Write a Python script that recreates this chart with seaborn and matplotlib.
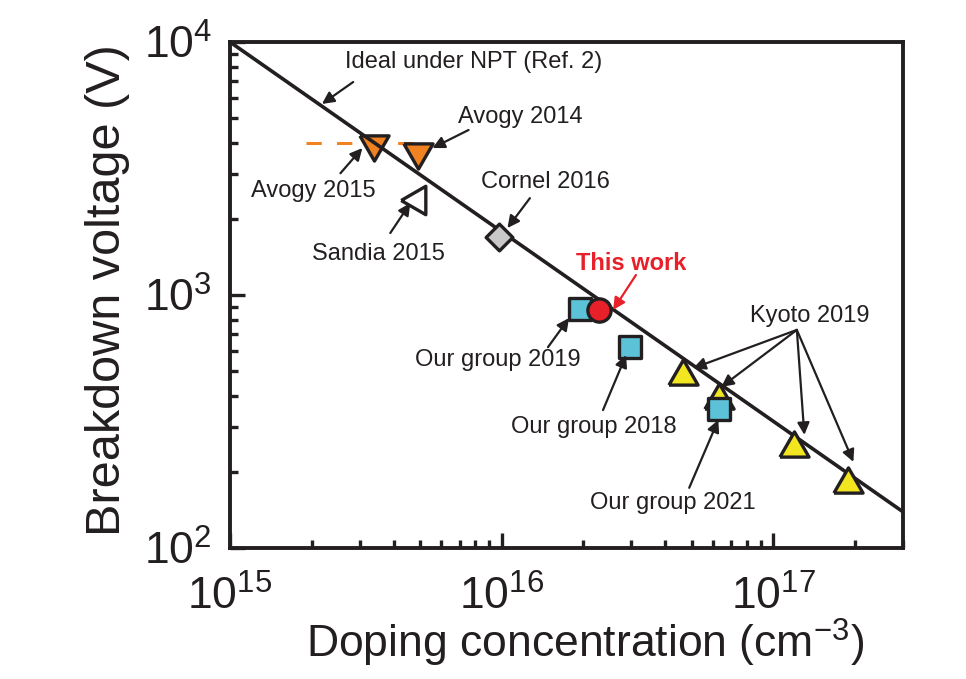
import matplotlib
matplotlib.use("Agg")
import matplotlib.pyplot as plt
import seaborn as sns
import numpy as np

# ---------------- data ----------------
ideal_x = [1e15, 3e17]
ideal_y = [1e4, 139]

avogy_level_x = [1.9e15, 4.7e15]
avogy_level_y = [4000, 4000]

avogy2015_x = [3.4e15]
avogy2015_y = [3800]
avogy2014_x = [4.9e15]
avogy2014_y = [3540]
sandia2015_x = [4.7e15]
sandia2015_y = [2370]
cornel2016_x = [9.8e15]
cornel2016_y = [1690]
our2019_x = [1.95e16]
our2019_y = [880]
thiswork_x = [2.28e16]
thiswork_y = [870]
our2018_x = [2.97e16]
our2018_y = [622]
our2021_x = [6.3e16]
our2021_y = [355]
kyoto_x = [4.66e16, 6.3e16, 1.19e17, 1.89e17]
kyoto_y = [497, 400, 258, 186]

# ---------------- style ----------------
sns.set_theme(style="ticks")
plt.rcParams["font.family"] = ["Liberation Sans", "DejaVu Sans"]
plt.rcParams["mathtext.fontset"] = "custom"
plt.rcParams["mathtext.rm"] = "Liberation Sans"
plt.rcParams["mathtext.it"] = "Liberation Sans:italic"
plt.rcParams["mathtext.bf"] = "Liberation Sans:bold"

INK = "#231f20"
ORANGE = "#f08222"
CYAN = "#5bc2d8"
YELLOW = "#f2e620"
RED = "#e8202a"
GRAY = "#c8c8c8"

tri_up = [(-1, -0.866), (1, -0.866), (0, 0.866), (-1, -0.866)]
tri_down = [(-1, 0.866), (1, 0.866), (0, -0.866), (-1, 0.866)]
tri_left = [(-0.866, 0), (0.866, 1), (0.866, -1), (-0.866, 0)]

fig = plt.figure(figsize=(9.66, 6.79), dpi=100)
ax = fig.add_axes([0.2381, 0.1929, 0.6967, 0.7452])
ax.set_xscale("log")
ax.set_yscale("log")

# lines
sns.lineplot(x=avogy_level_x, y=avogy_level_y, ax=ax, color=ORANGE, lw=2.2,
             linestyle=(0, (5, 5)), zorder=1)
sns.lineplot(x=ideal_x, y=ideal_y, ax=ax, color=INK, lw=2.6, zorder=3)

def pts(x, y, marker, s, color, z):
    sns.scatterplot(x=x, y=y, ax=ax, marker=marker, s=s, color=color,
                    edgecolor=INK, linewidth=2.4, zorder=z, legend=False)

pts(avogy2015_x, avogy2015_y, tri_down, 440, ORANGE, 2)
pts(avogy2014_x, avogy2014_y, tri_down, 440, ORANGE, 4)
pts(sandia2015_x, sandia2015_y, tri_left, 420, "white", 4)
pts(cornel2016_x, cornel2016_y, "D", 185, GRAY, 4)
pts(kyoto_x, kyoto_y, tri_up, 440, YELLOW, 4)
pts(our2019_x, our2019_y, "s", 250, CYAN, 5)
pts(thiswork_x, thiswork_y, "o", 280, RED, 6)
pts(our2018_x, our2018_y, "s", 250, CYAN, 5)
pts(our2021_x, our2021_y, "s", 250, CYAN, 5)

# ---------------- annotations ----------------
def arrow(head, tail, color=INK):
    ax.annotate("", xy=head, xytext=tail,
                arrowprops=dict(arrowstyle="-|>", color=color, lw=1.6,
                                mutation_scale=18, shrinkA=0, shrinkB=0),
                zorder=7)

def label(xy, s, color=INK, weight="normal"):
    ax.text(xy[0], xy[1], s, ha="center", va="center", fontsize=17,
            color=color, fontweight=weight, zorder=8)

label((7.9e15, 8340), "Ideal under NPT (Ref. 2)")
arrow((2.18e15, 5690), (2.84e15, 6950))

label((1.175e16, 5060), "Avogy 2014")
arrow((5.56e15, 3810), (7.55e15, 4490))

label((2.02e15, 2580), "Avogy 2015")
arrow((3.07e15, 3810), (2.55e15, 3030))

label((3.52e15, 1452), "Sandia 2015")
arrow((4.61e15, 2310), (3.89e15, 1758))

label((1.45e16, 2800), "Cornel 2016")
arrow((1.05e16, 1840), (1.27e16, 2415))

label((2.99e16, 1327), "This work", color=RED, weight="bold")
arrow((2.57e16, 873), (3.12e16, 1200), color=RED)

label((9.66e15, 553), "Our group 2019")
arrow((1.77e16, 811), (1.48e16, 622))

label((2.18e16, 301), "Our group 2018")
arrow((2.87e16, 579), (2.36e16, 351))

label((4.28e16, 151), "Our group 2021")
arrow((6.27e16, 321), (4.9e16, 173))

label((1.36e17, 826), "Kyoto 2019")
for head in [(5.07e16, 514), (6.43e16, 433), (1.3e17, 280), (1.97e17, 219)]:
    arrow(head, (1.22e17, 728))

# ---------------- axes ----------------
ax.set_xlim(1e15, 3e17)
ax.set_ylim(1e2, 1e4)
for sp in ax.spines.values():
    sp.set_linewidth(2.8)
    sp.set_color(INK)
    sp.set_visible(True)
ax.tick_params(which="major", direction="in", length=11, width=2.4,
               labelsize=32, colors=INK, top=False, right=False)
ax.tick_params(axis="x", which="major", pad=19.5)
ax.tick_params(axis="y", which="major", pad=13)
ax.tick_params(which="minor", direction="in", length=6, width=2.4,
               colors=INK, top=False, right=False)
ax.set_xlabel("Doping concentration (cm$^{-3}$)", fontsize=32, color=INK)
ax.set_ylabel("Breakdown voltage (V)", fontsize=35, color=INK)
ax.xaxis.set_label_coords(0.527, -0.136)
ax.yaxis.set_label_coords(-0.148, 0.51)
ax.grid(False)

fig.savefig("out.png", dpi=100)
